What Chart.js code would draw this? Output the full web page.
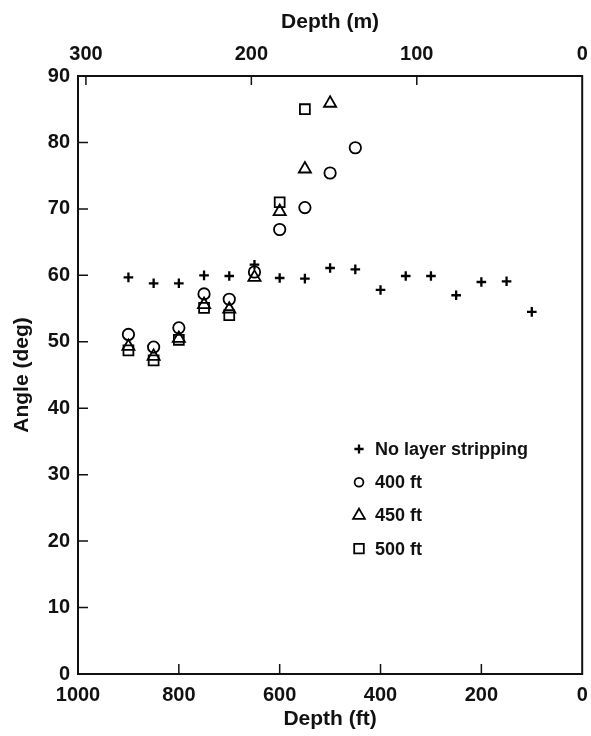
<!DOCTYPE html>
<html>
<head>
<meta charset="utf-8">
<title>Angle vs depth</title>
<script src="https://cdn.jsdelivr.net/npm/chart.js@4.4.1/dist/chart.umd.min.js"></script>
<style>
  html, body { margin: 0; padding: 0; background: #fff; }
  canvas { display: block; }
</style>
</head>
<body>
<canvas id="myChart" width="591" height="736"></canvas>
<script>
// no layer stripping
var depthNone = [900, 850, 800, 750, 700, 650, 600, 550, 500, 450, 400, 350, 300, 250, 200, 150, 100];
var angleNone = [59.7, 58.8, 58.8, 60.0, 59.9, 61.6, 59.6, 59.5, 61.1, 60.9, 57.8, 59.9, 59.9, 57.0, 59.0, 59.1, 54.5];

// stripped at 400 ft
var depth400 = [900, 850, 800, 750, 700, 650, 600, 550, 500, 450];
var angle400 = [51.1, 49.2, 52.1, 57.2, 56.4, 60.5, 66.9, 70.2, 75.4, 79.2];

// stripped at 450 ft
var depth450 = [900, 850, 800, 750, 700, 650, 600, 550, 500];
var angle450 = [49.3, 47.8, 50.5, 55.6, 54.9, 59.7, 69.6, 76.0, 85.9];

// stripped at 500 ft
var depth500 = [900, 850, 800, 750, 700, 600, 550];
var angle500 = [48.7, 47.2, 50.3, 55.1, 54.0, 71.0, 85.0];

var ftTicks = [1000, 800, 600, 400, 200, 0];
var mTicks = [300, 200, 100, 0];
var angleTicks = [0, 10, 20, 30, 40, 50, 60, 70, 80, 90];

var FT_TO_M = 0.3048;
var FONT = 'Liberation Sans, Arial, Helvetica, sans-serif';
var INK = '#111';

const puntos = (xs, ys) => xs.map((x, i) => ({ x: x, y: ys[i] }));
const fijarTicks = (lista) => (scale) => { scale.ticks = lista.map(v => ({ value: v })); };
const sinComa = (v) => String(v);

// frame, inward tick marks and the legend box
var marco = {
    id: 'marco',
    afterDraw: (chart) => {
        var ctx = chart.ctx;
        var a = chart.chartArea;
        var sx = chart.scales.x, sm = chart.scales.xm, sy = chart.scales.y;
        ctx.save();
        ctx.strokeStyle = INK;
        ctx.lineWidth = 2;
        ctx.strokeRect(a.left, a.top, a.right - a.left, a.bottom - a.top);

        ctx.lineWidth = 1.5;
        ctx.beginPath();
        angleTicks.slice(1, -1).forEach(v => {
            var py = sy.getPixelForValue(v);
            ctx.moveTo(a.left, py); ctx.lineTo(a.left + 10, py);
        });
        ftTicks.slice(1, -1).forEach(v => {
            var px = sx.getPixelForValue(v);
            ctx.moveTo(px, a.bottom); ctx.lineTo(px, a.bottom - 10);
        });
        mTicks.slice(0, -1).forEach(v => {
            var px = sm.getPixelForValue(v);
            ctx.moveTo(px, a.top); ctx.lineTo(px, a.top + 9);
        });
        ctx.stroke();

        // legend
        var lx = a.left + 281, ly = a.top + 373, paso = 33.2;
        ctx.font = 'bold 18px ' + FONT;
        ctx.textBaseline = 'middle';
        ctx.textAlign = 'left';
        chart.data.datasets.forEach((ds, i) => {
            var y = ly + i * paso;
            ctx.strokeStyle = '#000';
            ctx.fillStyle = 'rgba(0,0,0,0)';
            ctx.lineWidth = ds.pointBorderWidth;
            Chart.helpers.drawPoint(ctx, {
                pointStyle: ds.pointStyle,
                radius: ds.legendRadius,
                borderWidth: ds.pointBorderWidth,
                rotation: 0
            }, lx, y);
            ctx.fillStyle = INK;
            ctx.fillText(ds.label, lx + 16, y + 1);
        });
        ctx.restore();
    }
};

var ctx = document.getElementById('myChart').getContext('2d');

var chart = new Chart(ctx, {
    type: 'scatter',
    data: {
        datasets: [{
            label: 'No layer stripping',
            data: puntos(depthNone, angleNone),
            pointStyle: 'cross',
            pointRadius: 4.8,
            legendRadius: 4.6,
            pointBorderWidth: 2.3
        }, {
            label: '400 ft',
            data: puntos(depth400, angle400),
            pointStyle: 'circle',
            pointRadius: 5.7,
            legendRadius: 4.4,
            pointBorderWidth: 1.8
        }, {
            label: '450 ft',
            data: puntos(depth450, angle450),
            pointStyle: 'triangle',
            pointRadius: 7,
            legendRadius: 6.8,
            pointBorderWidth: 1.8
        }, {
            label: '500 ft',
            data: puntos(depth500, angle500),
            pointStyle: 'rect',
            pointRadius: 7,
            legendRadius: 6.8,
            pointBorderWidth: 1.8
        }].map(ds => Object.assign(ds, {
            borderColor: '#000',
            backgroundColor: 'rgba(0,0,0,0)',
            pointBackgroundColor: 'rgba(0,0,0,0)',
            pointBorderColor: '#000',
            pointHoverRadius: ds.pointRadius,
            xAxisID: 'x',
            yAxisID: 'y'
        }))
    },
    options: {
        responsive: false,
        animation: false,
        layout: { padding: { left: 0, right: 7, top: 0, bottom: 0 } },
        plugins: {
            legend: { display: false },
            tooltip: { enabled: false }
        },
        scales: {
            x: {
                type: 'linear',
                position: 'bottom',
                min: 0, max: 1000,
                reverse: true,
                afterBuildTicks: fijarTicks(ftTicks),
                afterFit: (s) => { s.height = 62; s.paddingLeft = 0; s.paddingRight = 0; },
                grid: { display: false, drawTicks: false },
                border: { display: false },
                ticks: { color: INK, padding: 9, maxRotation: 0, callback: sinComa,
                         font: { family: FONT, size: 20, weight: 'bold' } },
                title: { display: true, text: 'Depth (ft)', color: INK, padding: { top: 0, bottom: 4 },
                         font: { family: FONT, size: 21, weight: 'bold' } }
            },
            xm: {
                type: 'linear',
                position: 'top',
                min: 0, max: 1000 * FT_TO_M,
                reverse: true,
                afterBuildTicks: fijarTicks(mTicks),
                afterFit: (s) => { s.height = 76; s.paddingLeft = 0; s.paddingRight = 0; },
                grid: { display: false, drawTicks: false },
                border: { display: false },
                ticks: { color: INK, padding: 10, maxRotation: 0, callback: sinComa,
                         font: { family: FONT, size: 20, weight: 'bold' } },
                title: { display: true, text: 'Depth (m)', color: INK, padding: { top: 10, bottom: 0 },
                         font: { family: FONT, size: 21, weight: 'bold' } }
            },
            y: {
                type: 'linear',
                min: 0, max: 90,
                afterBuildTicks: fijarTicks(angleTicks),
                afterFit: (s) => { s.width = 78; },
                grid: { display: false, drawTicks: false },
                border: { display: false },
                ticks: { color: INK, padding: 8, callback: sinComa,
                         font: { family: FONT, size: 20, weight: 'bold' } },
                title: { display: true, text: 'Angle (deg)', color: INK, padding: { top: 10, bottom: 0 },
                         font: { family: FONT, size: 21, weight: 'bold' } }
            }
        }
    },
    plugins: [marco]
});
</script>
</body>
</html>
